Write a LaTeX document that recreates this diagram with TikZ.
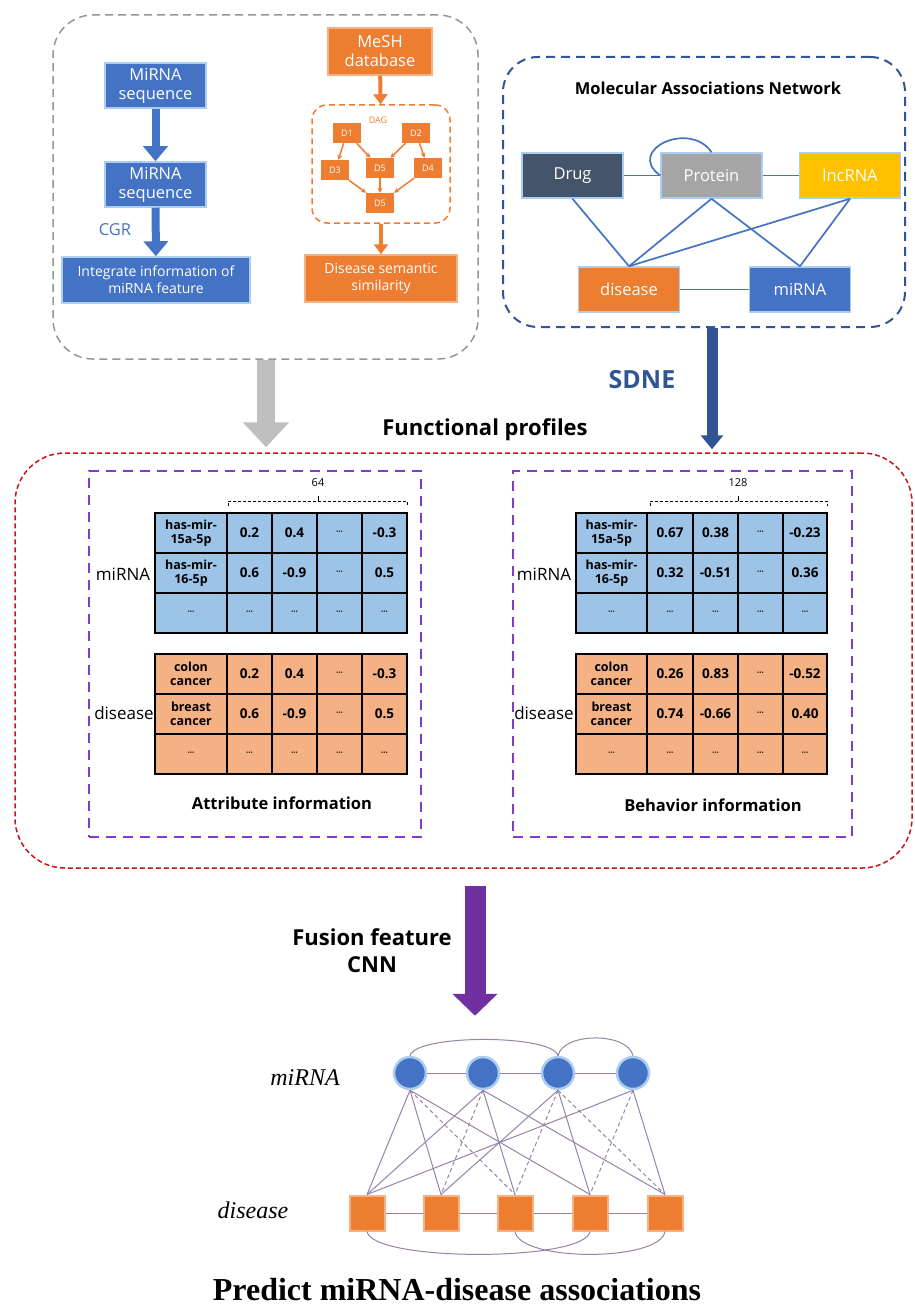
\documentclass[tikz,border=0pt]{standalone}
\usepackage{fontspec}
\setmainfont{Open Sans}
\newfontfamily\timesfont{Liberation Serif}
\usepackage{tikz}
\usetikzlibrary{arrows,arrows.meta,shapes,positioning}
\definecolor{mirblue}{RGB}{68,114,196}
\definecolor{disorange}{RGB}{237,125,49}
\definecolor{drugslate}{RGB}{68,84,106}
\definecolor{protgray}{RGB}{165,165,165}
\definecolor{lncgold}{RGB}{255,192,0}
\definecolor{cellblue}{RGB}{157,195,230}
\definecolor{cellorange}{RGB}{244,177,131}
\definecolor{glowblue}{RGB}{170,205,240}
\definecolor{sdneblue}{RGB}{47,85,151}
\definecolor{fusepurple}{RGB}{112,48,160}
\definecolor{framepurple}{RGB}{128,60,200}
\definecolor{framered}{RGB}{200,20,20}
\definecolor{framegray}{RGB}{150,150,150}
\definecolor{arrowgray}{RGB}{191,191,191}
\definecolor{edgemauve}{RGB}{150,130,170}
\newcommand{\fsz}[2]{\fontsize{#1}{#2}\selectfont}
\newcommand{\cdts}{{\fsz{8}{8}\textperiodcentered\textperiodcentered\textperiodcentered}}
\tikzset{
  mirbox/.style={fill=mirblue, draw=glowblue, line width=1.5, text=white, align=center, inner sep=1, font=\fsz{16.5}{19}},
  disbox/.style={fill=disorange, draw=cellorange, line width=1.5, text=white, align=center, inner sep=1, font=\fsz{16.5}{19}},
  dagnode/.style={fill=disorange, text=white, minimum width=28, minimum height=20, inner sep=0, font=\fsz{9}{9}},
  dagedge/.style={disorange, line width=1.5, -{Stealth[length=5pt,width=5pt]}},
  netbox/.style={draw=glowblue, line width=1.5, text=white, minimum width=101, minimum height=45, font=\fsz{16.5}{19}},
  netedge/.style={mirblue, line width=1.7},
  cellgrid/.style={black, line width=2},
  cell/.style={font=\bfseries\fsz{13.5}{15}, inner sep=0},
  rowname/.style={font=\bfseries\fsz{12.5}{13.5}, align=center, inner sep=0},
  sidelabel/.style={font=\fsz{17}{19}},
  dimline/.style={black, line width=1, dash pattern=on 3pt off 2pt},
  mnode/.style={circle, fill=mirblue, draw=glowblue, line width=2.5, minimum size=32, inner sep=0},
  dnode/.style={rectangle, fill=disorange, draw=cellorange, line width=2, minimum size=35, inner sep=0},
  link/.style={edgemauve, line width=1},
  weak/.style={link, dash pattern=on 4pt off 3pt},
  bluearrow/.style={mirblue, line width=8, -{Triangle[width=24pt,length=15pt]}},
  orangearrow/.style={disorange, line width=4, -{Triangle[width=14pt,length=10pt]}}
}

\begin{document}
\begin{tikzpicture}[x=1pt, y=-1pt]
\useasboundingbox (0,0) rectangle (914,1308);

% Frames
\node[draw=framegray, line width=1.5, dash pattern=on 8pt off 5pt, rounded corners=40, minimum width=425, minimum height=344] (attrframe) at (265.5,187) {};
\node[draw=sdneblue, line width=2, dash pattern=on 9pt off 6pt, rounded corners=35, minimum width=402, minimum height=270] (netframe) at (704,192) {};
\node[draw=framered, line width=1.5, dash pattern=on 5pt off 3pt, rounded corners=50, minimum width=897, minimum height=415] (profiles) at (463.5,660.5) {};
\node[draw=framepurple, line width=2, dash pattern=on 10pt off 7pt, minimum width=332, minimum height=366] (attrpanel) at (254.5,653.5) {};
\node[draw=framepurple, line width=2, dash pattern=on 10pt off 7pt, minimum width=339, minimum height=366] (behavpanel) at (682.5,653.5) {};

% miRNA sequence side
\node[mirbox, minimum width=101, minimum height=45] (seq1) at (155.5,85.5) {MiRNA\\sequence};
\node[mirbox, minimum width=101, minimum height=45] (seq2) at (155.5,184.5) {MiRNA\\sequence};
\node[mirbox, minimum width=188, minimum height=46, font=\fsz{14}{17}] (integ) at (156,280) {Integrate information of\\miRNA feature};
\draw[bluearrow] (seq1) -- (seq2);
\draw[bluearrow] (seq2) -- (integ);
\node[mirblue, font=\fsz{16.5}{19}] (cgr) at (115,230) {CGR};

% disease semantic side
\node[disbox, minimum width=104, minimum height=47] (mesh) at (380,51.5) {MeSH\\database};
\node[draw=disorange, line width=1.5, dash pattern=on 6pt off 4pt, rounded corners=15, minimum width=138, minimum height=118] (dag) at (381,164) {};
\node[disorange, font=\fsz{9}{9}] (daglabel) at (378,120) {DAG};
\node[dagnode] (d1) at (347,133) {D1};
\node[dagnode] (d2) at (416,133) {D2};
\node[dagnode] (d3) at (335,170) {D3};
\node[dagnode] (d5a) at (380,168) {D5};
\node[dagnode] (d4) at (428,168) {D4};
\node[dagnode] (d5b) at (380,203) {D5};
\draw[dagedge] (d1) -- (d3);
\draw[dagedge] (d1) -- (d5a);
\draw[dagedge] (d2) -- (d5a);
\draw[dagedge] (d2) -- (d4);
\draw[dagedge] (d3) -- (d5b);
\draw[dagedge] (d5a) -- (d5b);
\draw[dagedge] (d4) -- (d5b);
\node[disbox, minimum width=152, minimum height=47, font=\fsz{14}{17}] (semsim) at (381,278.5) {Disease semantic\\similarity};
\draw[orangearrow] (mesh) -- (dag);
\draw[orangearrow] (dag) -- (semsim);

% Molecular associations network
\node[font=\bfseries\fsz{16.5}{19}] (mantitle) at (708,88) {Molecular Associations Network};
\node[netbox, fill=drugslate] (drug) at (572.5,175.5) {Drug};
\node[netbox, fill=protgray] (protein) at (711.5,175.5) {Protein};
\node[netbox, fill=lncgold] (lncrna) at (850,175.5) {lncRNA};
\node[netbox, fill=disorange] (disease) at (629,289.5) {disease};
\node[netbox, fill=mirblue] (mirna) at (800,289.5) {miRNA};
\draw[netedge] (drug) -- (protein);
\draw[netedge] (protein) -- (lncrna);
\draw[netedge] (disease) -- (mirna);
\draw[netedge] (protein.west) .. controls (625,150) and (690,120) .. (protein.north);
\draw[netedge] (drug.south) -- (disease.north);
\draw[netedge] (protein.south) -- (disease.north);
\draw[netedge] (protein.south) -- (mirna.north);
\draw[netedge] (lncrna.south) -- (disease.north);
\draw[netedge] (lncrna.south) -- (mirna.north);

% Arrows into the profiles
\coordinate (grayx) at (266,0);
\coordinate (sdnex) at (712,0);
\draw[arrowgray, line width=18, -{Triangle[width=45pt,length=25pt]}, shorten >=5pt] (attrframe.south -| grayx) -- (profiles.north -| grayx);
\draw[sdneblue, line width=11, -{Triangle[width=22pt,length=14pt]}, shorten >=3pt] (netframe.south -| sdnex) -- (profiles.north -| sdnex);
\node[sdneblue, font=\bfseries\fsz{25}{28}] (sdne) at (642,380) {SDNE};
\node[font=\bfseries\fsz{22}{25}] (proftitle) at (485,430) {Functional profiles};

% Attribute information tables
\draw[dimline] (228,506) -- (228,501) -- (407,501) -- (407,506);
\draw[dimline, solid] (318,501) -- (318,496);
\node[font=\fsz{11}{12}] (dim64) at (318,483) {64};

\fill[cellblue] (155,513) rectangle (407,633);
\foreach \x in {227,272,317,362} \draw[cellgrid] (\x,513) -- (\x,633);
\foreach \y in {553,593} \draw[cellgrid] (155,\y) -- (407,\y);
\draw[cellgrid] (155,513) rectangle (407,633);
\foreach \n/\a/\b/\c/\d [count=\r] in {{has-mir-\\15a-5p}/0.2/0.4/\cdts/-0.3, {has-mir-\\16-5p}/0.6/-0.9/\cdts/0.5, \cdts/\cdts/\cdts/\cdts/\cdts} {
  \node[rowname] (am\r-0) at (191,493+40*\r) {\n};
  \node[cell] (am\r-1) at (249.5,493+40*\r) {\a};
  \node[cell] (am\r-2) at (294.5,493+40*\r) {\b};
  \node[cell] (am\r-3) at (339.5,493+40*\r) {\c};
  \node[cell] (am\r-4) at (384.5,493+40*\r) {\d};
}
\node[sidelabel] (amlabel) at (123,574) {miRNA};

\fill[cellorange] (155,654) rectangle (407,774);
\foreach \x in {227,272,317,362} \draw[cellgrid] (\x,654) -- (\x,774);
\foreach \y in {694,734} \draw[cellgrid] (155,\y) -- (407,\y);
\draw[cellgrid] (155,654) rectangle (407,774);
\foreach \n/\a/\b/\c/\d [count=\r] in {{colon\\cancer}/0.2/0.4/\cdts/-0.3, {breast\\cancer}/0.6/-0.9/\cdts/0.5, \cdts/\cdts/\cdts/\cdts/\cdts} {
  \node[rowname] (ad\r-0) at (191,634+40*\r) {\n};
  \node[cell] (ad\r-1) at (249.5,634+40*\r) {\a};
  \node[cell] (ad\r-2) at (294.5,634+40*\r) {\b};
  \node[cell] (ad\r-3) at (339.5,634+40*\r) {\c};
  \node[cell] (ad\r-4) at (384.5,634+40*\r) {\d};
}
\node[sidelabel] (adlabel) at (124,713) {disease};
\node[font=\bfseries\fsz{16.5}{19}] (attrtitle) at (282,803) {Attribute information};

% Behavior information tables
\draw[dimline] (650,506) -- (650,501) -- (827,501) -- (827,506);
\draw[dimline, solid] (738,501) -- (738,496);
\node[font=\fsz{11}{12}] (dim128) at (738,483) {128};

\fill[cellblue] (576,513) rectangle (827,633);
\foreach \x in {647,693,738,783} \draw[cellgrid] (\x,513) -- (\x,633);
\foreach \y in {553,593} \draw[cellgrid] (576,\y) -- (827,\y);
\draw[cellgrid] (576,513) rectangle (827,633);
\foreach \n/\a/\b/\c/\d [count=\r] in {{has-mir-\\15a-5p}/0.67/0.38/\cdts/-0.23, {has-mir-\\16-5p}/0.32/-0.51/\cdts/0.36, \cdts/\cdts/\cdts/\cdts/\cdts} {
  \node[rowname] (bm\r-0) at (611.5,493+40*\r) {\n};
  \node[cell] (bm\r-1) at (670,493+40*\r) {\a};
  \node[cell] (bm\r-2) at (715.5,493+40*\r) {\b};
  \node[cell] (bm\r-3) at (760.5,493+40*\r) {\c};
  \node[cell] (bm\r-4) at (805,493+40*\r) {\d};
}
\node[sidelabel] (bmlabel) at (544,574) {miRNA};

\fill[cellorange] (576,654) rectangle (827,774);
\foreach \x in {647,693,738,783} \draw[cellgrid] (\x,654) -- (\x,774);
\foreach \y in {694,734} \draw[cellgrid] (576,\y) -- (827,\y);
\draw[cellgrid] (576,654) rectangle (827,774);
\foreach \n/\a/\b/\c/\d [count=\r] in {{colon\\cancer}/0.26/0.83/\cdts/-0.52, {breast\\cancer}/0.74/-0.66/\cdts/0.40, \cdts/\cdts/\cdts/\cdts/\cdts} {
  \node[rowname] (bd\r-0) at (611.5,634+40*\r) {\n};
  \node[cell] (bd\r-1) at (670,634+40*\r) {\a};
  \node[cell] (bd\r-2) at (715.5,634+40*\r) {\b};
  \node[cell] (bd\r-3) at (760.5,634+40*\r) {\c};
  \node[cell] (bd\r-4) at (805,634+40*\r) {\d};
}
\node[sidelabel] (bdlabel) at (544,713) {disease};
\node[font=\bfseries\fsz{16.5}{19}] (behavtitle) at (713,805) {Behavior information};

% Fusion step
\coordinate (fusex) at (475,0);
\node[font=\bfseries\fsz{22}{27}, align=center] (fuselabel) at (372,951) {Fusion feature\\CNN};

% miRNA-disease graph
\node[mnode] (mi1) at (410,1073) {};
\node[mnode] (mi2) at (483,1073) {};
\node[mnode] (mi3) at (558,1073) {};
\node[mnode] (mi4) at (633,1073) {};
\foreach \x [count=\i] in {367,441,515,590,665}
  \node[dnode] (di\i) at (\x,1213) {};
\draw[fusepurple, line width=21, -{Triangle[width=44pt,length=22pt]}, shorten <=17pt, shorten >=40pt] (profiles.south -| fusex) -- (mi2.north -| fusex);
\node[font=\timesfont\itshape\fsz{24}{26}] (milabel) at (305,1078) {miRNA};
\node[font=\timesfont\itshape\fsz{24}{26}] (dilabel) at (253,1210) {disease};
\draw[link] (mi1) -- (mi2);
\draw[link] (mi2) -- (mi3);
\draw[link] (mi3) -- (mi4);
\foreach \i [evaluate=\i as \j using int(\i+1)] in {1,2,3,4}
  \draw[link] (di\i) -- (di\j);
\draw[link] (mi1.north) .. controls (415,1034) and (553,1034) .. (mi3.north);
\draw[link] (mi3.north) .. controls (563,1032) and (628,1032) .. (mi4.north);
\draw[link] (di1.south) .. controls (372,1262) and (585,1262) .. (di4.south);
\draw[link] (di3.south) .. controls (520,1262) and (660,1262) .. (di5.south);
\foreach \a/\b in {1/1,1/2,1/4,2/1,2/3,2/5,3/2,3/4,4/1,4/5}
  \draw[link] (mi\a.south) -- (di\b.north);
\foreach \a/\b in {1/3,2/2,3/3,3/5,4/4}
  \draw[weak] (mi\a.south) -- (di\b.north);
\node[font=\timesfont\bfseries\fsz{32}{36}] (predict) at (457,1290) {Predict miRNA-disease associations};
\end{tikzpicture}
\end{document}
